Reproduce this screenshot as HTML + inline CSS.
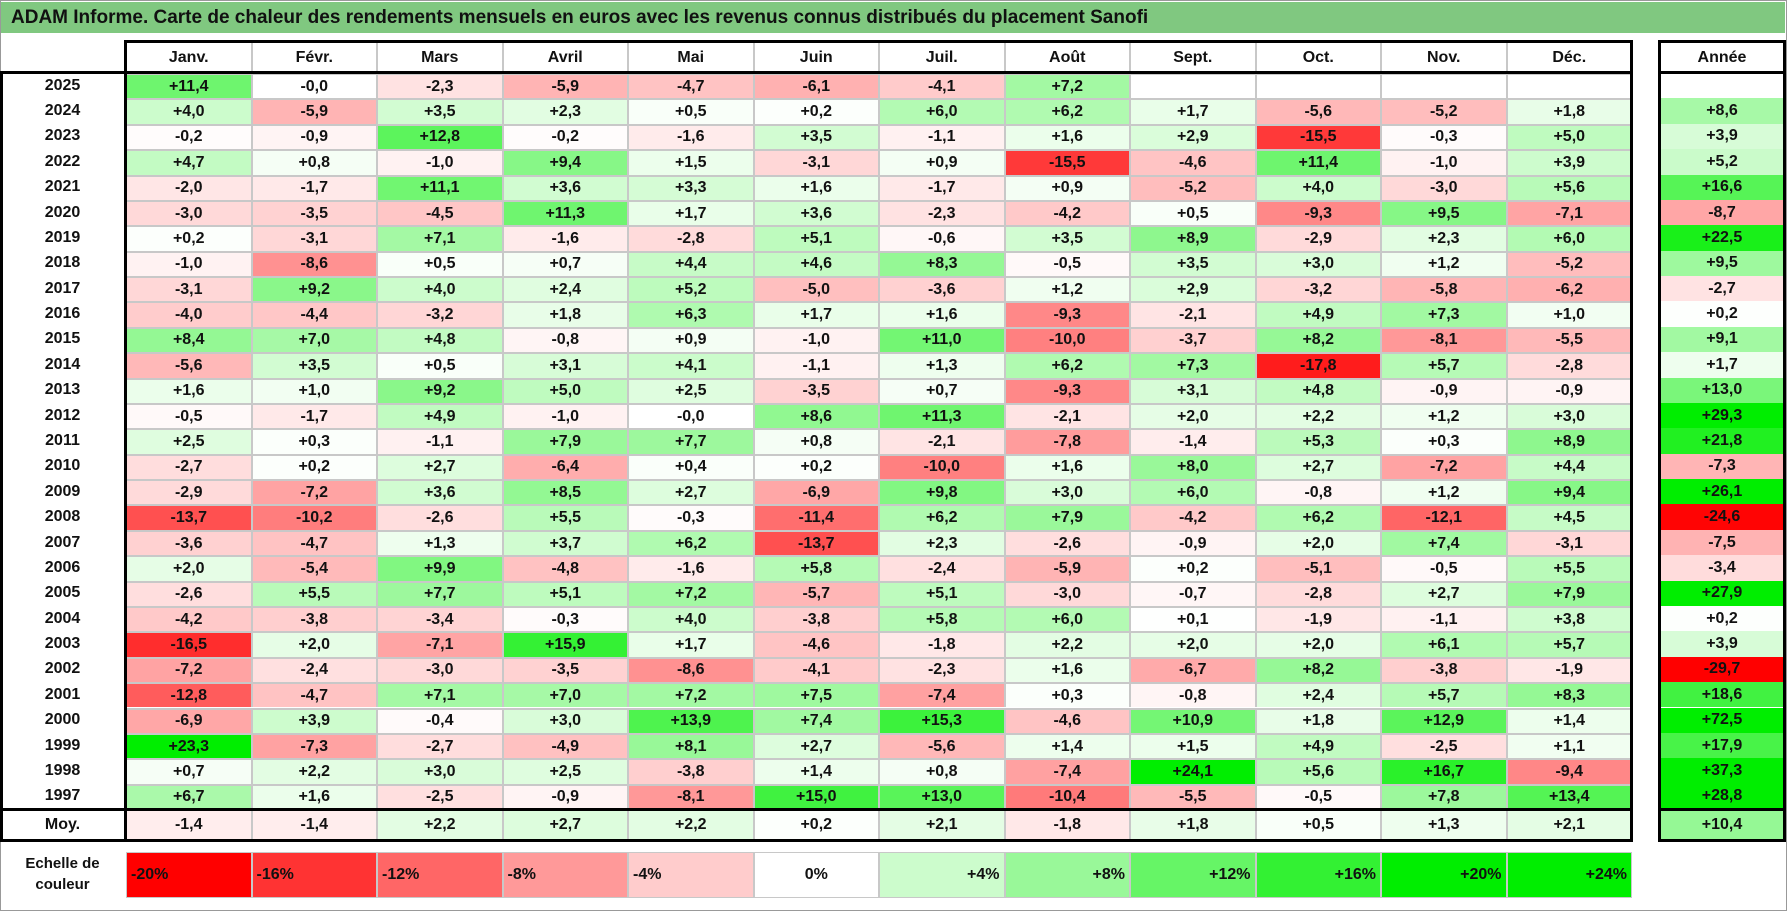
<!DOCTYPE html>
<html><head><meta charset="utf-8">
<style>
html,body{margin:0;padding:0;background:#fff;}
#root{position:relative;width:1787px;height:912px;overflow:hidden;font-family:"Liberation Sans",Arial,sans-serif;font-weight:bold;color:#111;}
.a{position:absolute;box-sizing:border-box;}
.c{display:flex;align-items:center;justify-content:center;font-size:16px;}
</style></head><body>
<div id="root">
  <div class="a" style="left:0;top:0;width:1787px;height:911px;border:1px solid #999;"></div>
  <div class="a" style="left:1px;top:2px;width:1784px;height:31px;background:#80c880;font-size:19px;padding-left:10px;line-height:31px;">ADAM Informe. Carte de chaleur des rendements mensuels en euros avec les revenus connus distribués du placement Sanofi</div>
</div>
<script>
const months=["Janv.","Févr.","Mars","Avril","Mai","Juin","Juil.","Août","Sept.","Oct.","Nov.","Déc."];
const years=[2025,2024,2023,2022,2021,2020,2019,2018,2017,2016,2015,2014,2013,2012,2011,2010,2009,2008,2007,2006,2005,2004,2003,2002,2001,2000,1999,1998,1997];
const monthly=[
[11.4,-0,-2.3,-5.9,-4.7,-6.1,-4.1,7.2,null,null,null,null],
[4.0,-5.9,3.5,2.3,0.5,0.2,6.0,6.2,1.7,-5.6,-5.2,1.8],
[-0.2,-0.9,12.8,-0.2,-1.6,3.5,-1.1,1.6,2.9,-15.5,-0.3,5.0],
[4.7,0.8,-1.0,9.4,1.5,-3.1,0.9,-15.5,-4.6,11.4,-1.0,3.9],
[-2.0,-1.7,11.1,3.6,3.3,1.6,-1.7,0.9,-5.2,4.0,-3.0,5.6],
[-3.0,-3.5,-4.5,11.3,1.7,3.6,-2.3,-4.2,0.5,-9.3,9.5,-7.1],
[0.2,-3.1,7.1,-1.6,-2.8,5.1,-0.6,3.5,8.9,-2.9,2.3,6.0],
[-1.0,-8.6,0.5,0.7,4.4,4.6,8.3,-0.5,3.5,3.0,1.2,-5.2],
[-3.1,9.2,4.0,2.4,5.2,-5.0,-3.6,1.2,2.9,-3.2,-5.8,-6.2],
[-4.0,-4.4,-3.2,1.8,6.3,1.7,1.6,-9.3,-2.1,4.9,7.3,1.0],
[8.4,7.0,4.8,-0.8,0.9,-1.0,11.0,-10.0,-3.7,8.2,-8.1,-5.5],
[-5.6,3.5,0.5,3.1,4.1,-1.1,1.3,6.2,7.3,-17.8,5.7,-2.8],
[1.6,1.0,9.2,5.0,2.5,-3.5,0.7,-9.3,3.1,4.8,-0.9,-0.9],
[-0.5,-1.7,4.9,-1.0,-0,8.6,11.3,-2.1,2.0,2.2,1.2,3.0],
[2.5,0.3,-1.1,7.9,7.7,0.8,-2.1,-7.8,-1.4,5.3,0.3,8.9],
[-2.7,0.2,2.7,-6.4,0.4,0.2,-10.0,1.6,8.0,2.7,-7.2,4.4],
[-2.9,-7.2,3.6,8.5,2.7,-6.9,9.8,3.0,6.0,-0.8,1.2,9.4],
[-13.7,-10.2,-2.6,5.5,-0.3,-11.4,6.2,7.9,-4.2,6.2,-12.1,4.5],
[-3.6,-4.7,1.3,3.7,6.2,-13.7,2.3,-2.6,-0.9,2.0,7.4,-3.1],
[2.0,-5.4,9.9,-4.8,-1.6,5.8,-2.4,-5.9,0.2,-5.1,-0.5,5.5],
[-2.6,5.5,7.7,5.1,7.2,-5.7,5.1,-3.0,-0.7,-2.8,2.7,7.9],
[-4.2,-3.8,-3.4,-0.3,4.0,-3.8,5.8,6.0,0.1,-1.9,-1.1,3.8],
[-16.5,2.0,-7.1,15.9,1.7,-4.6,-1.8,2.2,2.0,2.0,6.1,5.7],
[-7.2,-2.4,-3.0,-3.5,-8.6,-4.1,-2.3,1.6,-6.7,8.2,-3.8,-1.9],
[-12.8,-4.7,7.1,7.0,7.2,7.5,-7.4,0.3,-0.8,2.4,5.7,8.3],
[-6.9,3.9,-0.4,3.0,13.9,7.4,15.3,-4.6,10.9,1.8,12.9,1.4],
[23.3,-7.3,-2.7,-4.9,8.1,2.7,-5.6,1.4,1.5,4.9,-2.5,1.1],
[0.7,2.2,3.0,2.5,-3.8,1.4,0.8,-7.4,24.1,5.6,16.7,-9.4],
[6.7,1.6,-2.5,-0.9,-8.1,15.0,13.0,-10.4,-5.5,-0.5,7.8,13.4]];
const annual=[null,8.6,3.9,5.2,16.6,-8.7,22.5,9.5,-2.7,0.2,9.1,1.7,13.0,29.3,21.8,-7.3,26.1,-24.6,-7.5,-3.4,27.9,0.2,3.9,-29.7,18.6,72.5,17.9,37.3,28.8];
const averages=[-1.4,-1.4,2.2,2.7,2.2,0.2,2.1,-1.8,1.8,0.5,1.3,2.1];
const averageAnnual=10.4;
const scaleTicks=[-20,-16,-12,-8,-4,0,4,8,12,16,20,24];

const root=document.getElementById('root');
const X0=125,CW=125.5,Y0=73,RH=25.38,AX=1659,AW=126;
const xM=i=>X0+i*CW;
const yR=i=>Y0+i*RH;
function color(v,lim){
  if(v===null)return '#fff';
  if(v<0){const t=Math.min(1,-v/lim);const g=Math.round(255*(1-t));return `rgb(255,${g},${g})`;}
  const t=Math.min(1,v/lim);const r=Math.round(255*(1-t));return `rgb(${r},${Math.round(255-17*t)},${r})`;
}
function fmt(v){if(v===null)return '';const s=(v<0||Object.is(v,-0))?'-':'+';return s+Math.abs(v).toFixed(1).replace('.',',');}
function box(l,t,w,h,css,txt,cls){
  const d=document.createElement('div');d.className='a'+(cls?' '+cls:'');
  d.style.cssText=`left:${l}px;top:${t}px;width:${w}px;height:${h}px;`+css;
  if(txt!==undefined)d.textContent=txt;root.appendChild(d);return d;
}
// header
months.forEach((m,i)=>{
  const d=box(xM(i),42,CW,31,'border-left:2px solid #c8c8c8;',m,'c');
  
  
});
const ah=box(AX,42,AW,31,'','Année','c');


// rows
years.forEach((y,r)=>{
  const yl=box(0,yR(r),X0,RH,'',String(y),'c');
  
  
  monthly[r].forEach((v,i)=>{
    const d=box(xM(i),yR(r),CW,RH,`background:${color(v,20)};border-left:2px solid #c8c8c8;border-top:2px solid #c8c8c8;`,fmt(v),'c');
    
    
  });
  const a=box(AX,yR(r),AW,RH,`background:${color(annual[r],25)};`,fmt(annual[r]),'c');
  
  
});
const yM=yR(years.length);
const ml=box(0,yM,X0,841-yM,'','Moy.','c');


averages.forEach((v,i)=>{
  const d=box(xM(i),yM,CW,841-yM,`background:${color(v,20)};border-left:2px solid #c8c8c8;`,fmt(v),'c');
  
  
});
const aa=box(AX,yM,AW,841-yM,`background:${color(averageAnnual,25)};`,fmt(averageAnnual),'c');


// thick borders
const lines=[
 [X0-1,40,1633-X0,3],[0,71,1633,3],[X0-1,40,3,802],[1630,40,3,802],[0,71,3,771],[0,yM-1,1633,3],[0,839,1633,3],
 [AX-1,40,AW+2,3],[AX-1,71,AW+2,3],[AX-1,40,3,802],[AX+AW-2,40,3,802],[AX-1,yM-1,AW+2,3],[AX-1,839,AW+2,3]];
lines.forEach(l=>{
  const d=box(l[0],l[1],l[2],l[3],'background:#000;');
  
  
});
// legend
const lt=box(0,850,X0,50,'text-align:center;font-size:15px;line-height:21px;padding-top:3px;','');
lt.innerHTML='Echelle de<br>couleur';


scaleTicks.forEach((v,i)=>{
  const just=v<0?'flex-start':(v===0?'center':'flex-end');
  const lab=(v>0?'+':'')+v+'%';
  const d=box(xM(i)+1,852,CW,46,`background:${color(v,20)};border:1px solid #c8c8c8;display:flex;align-items:center;justify-content:${just};padding:0 4px;font-size:16px;`,lab);
  
  
});
</script>
</body></html>
